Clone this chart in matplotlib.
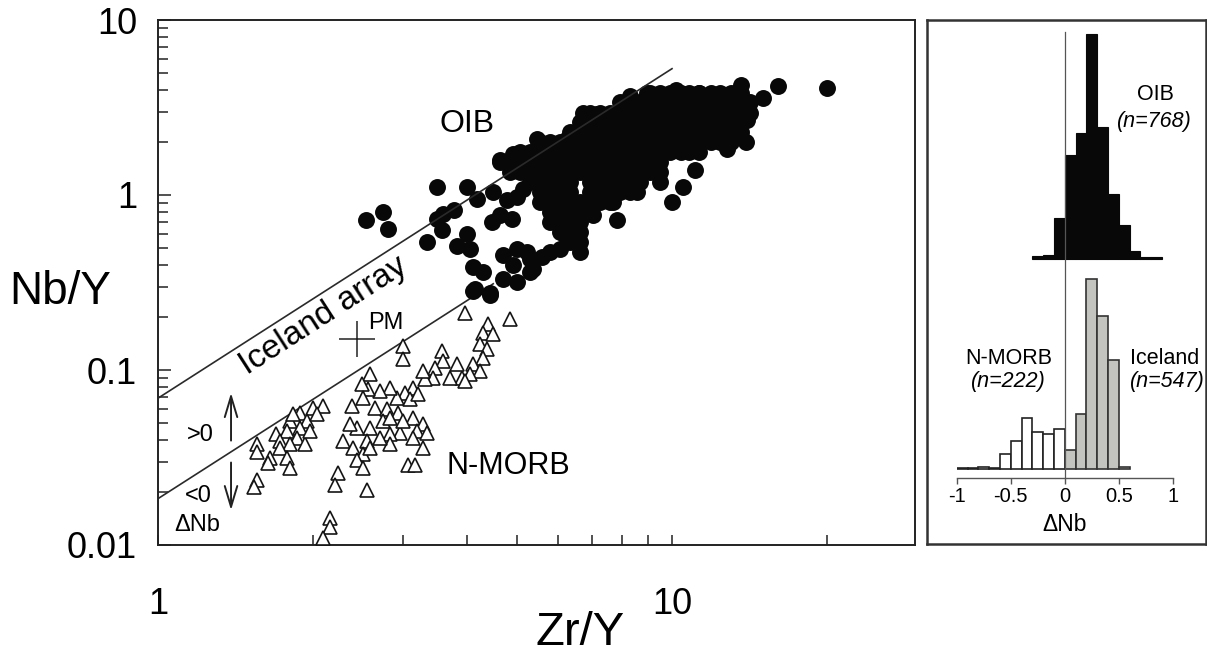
import numpy as np
import matplotlib
matplotlib.use("Agg")
import matplotlib.pyplot as plt
from matplotlib.ticker import FixedLocator, NullFormatter

plt.rcParams['font.family'] = ['Liberation Sans', 'DejaVu Sans']
plt.rcParams['axes.unicode_minus'] = False

W, H = 1207, 656

# OIB: dense core of the cloud, read column by column (Zr/Y of column, Nb/Y values)
core_zr_y = [4.63, 4.84, 5.06, 5.29, 5.53, 5.79, 6.05, 6.33, 6.62, 6.93, 7.24, 7.57, 7.92,
             8.28, 8.66, 9.06, 9.47, 9.91, 10.4, 10.8, 11.3, 11.9, 12.4, 13.0, 13.6, 14.2]
core_nb_y = [
    [1.54],
    [1.54, 1.35],
    [1.75, 1.54, 1.35],
    [1.75, 1.54, 1.35, 1.19],
    [2.00, 1.75, 1.54, 1.35, 1.19, 1.04, 0.912],
    [2.00, 1.75, 1.54, 1.35, 1.19, 1.04, 0.912, 0.800, 0.703],
    [2.00, 1.75, 1.54, 1.35, 1.19, 1.04, 0.912, 0.800, 0.703, 0.617],
    [2.28, 2.00, 1.75, 1.54, 1.35, 1.19, 1.04, 0.912, 0.800, 0.703, 0.617, 0.541],
    [2.60, 2.28, 2.00, 1.75, 1.54, 1.35, 0.912, 0.800, 0.703, 0.617, 0.541],
    [2.96, 2.60, 2.28, 2.00, 1.75, 1.54, 1.35, 1.19, 1.04, 0.912, 0.800],
    [2.96, 2.60, 2.28, 2.00, 1.75, 1.54, 1.35, 1.19, 1.04, 0.912],
    [2.96, 2.60, 2.28, 2.00, 1.75, 1.54, 1.35, 1.19, 1.04, 0.912],
    [3.38, 2.96, 2.60, 2.28, 2.00, 1.75, 1.54, 1.35, 1.19, 1.04],
    [3.38, 2.96, 2.60, 2.28, 2.00, 1.75, 1.54, 1.35, 1.19, 1.04],
    [3.38, 2.96, 2.60, 2.28, 2.00, 1.75, 1.54, 1.35, 1.19],
    [3.85, 3.38, 2.96, 2.60, 2.28, 2.00, 1.75, 1.54, 1.35],
    [3.85, 3.38, 2.96, 2.60, 2.28, 2.00, 1.75, 1.54, 1.35],
    [3.85, 3.38, 2.96, 2.60, 2.28, 2.00, 1.75],
    [3.85, 3.38, 2.96, 2.60, 2.28, 2.00, 1.75],
    [3.85, 3.38, 2.96, 2.60, 2.28, 2.00, 1.75],
    [3.85, 3.38, 2.96, 2.60, 2.28, 2.00, 1.75],
    [3.85, 3.38, 2.96, 2.60, 2.28, 2.00],
    [3.85, 3.38, 2.96, 2.60, 2.28, 2.00],
    [3.85, 3.38, 2.96, 2.60, 2.28, 2.00],
    [3.85, 3.38, 2.96, 2.60, 2.28],
    [3.38, 2.96],
]

# OIB: scattered points around the core
oib_zr_y = [2.54, 2.74, 2.80, 3.49, 3.99, 4.17, 4.49, 4.63, 4.91, 3.49,
            3.58, 3.77, 3.34, 3.57, 3.99, 3.82, 4.05, 4.10, 4.29, 4.14,
            4.43, 4.47, 4.63, 4.88, 4.77, 4.99, 5.13, 4.69, 4.99, 5.29,
            4.91, 4.69, 4.99, 5.29, 5.59, 5.79, 5.34, 5.53, 5.79, 5.22,
            4.91, 5.46, 6.25, 6.71, 7.15, 8.28, 8.94, 10.2, 11.3, 13.6,
            15.0, 16.1, 14.0, 14.0, 13.9, 12.8, 11.1, 10.5, 10.0, 7.82,
            6.62, 6.19, 5.22, 4.10, 4.43, 5.37, 6.05, 6.53, 7.02, 7.68,
            8.55, 9.48, 20.0]
oib_nb_y = [0.721, 0.800, 0.641, 1.11, 1.11, 0.949, 1.04, 1.58, 1.54, 0.730,
            0.780, 0.822, 0.541, 0.632, 0.600, 0.513, 0.493, 0.390, 0.365, 0.289,
            0.274, 0.703, 0.770, 0.730, 0.937, 0.974, 1.08, 0.456, 0.493, 0.433,
            0.400, 0.333, 0.320, 0.365, 0.444, 0.475, 1.23, 1.41, 1.69, 1.54,
            1.71, 2.08, 2.08, 2.96, 2.89, 3.70, 3.85, 4.00, 3.85, 4.27,
            3.60, 4.22, 2.96, 2.67, 2.00, 1.83, 1.39, 1.11, 0.912, 0.721,
            0.475, 0.593, 0.475, 0.281, 0.270, 0.380, 0.493, 0.600, 0.770, 0.912,
            1.04, 1.19, 4.11]

# N-MORB
morb_zr_y = [3.95, 4.84, 4.39, 4.29, 4.48, 4.23, 4.37, 4.29, 4.10, 4.23,
             4.05, 3.90, 3.95, 3.82, 3.70, 3.57, 3.58, 3.46, 3.43, 3.31,
             3.28, 3.00, 3.00, 3.13, 3.02, 2.92, 3.09, 3.21, 2.83, 2.70,
             2.59, 2.56, 2.49, 2.38, 2.51, 2.64, 2.79, 2.93, 3.13, 3.28,
             3.19, 3.34, 3.13, 2.96, 2.83, 2.83, 2.70, 2.59, 2.55, 2.44,
             2.36, 2.29, 2.40, 2.51, 2.59, 2.44, 2.51, 2.24, 2.21, 2.55,
             3.06, 3.16, 3.28, 2.74, 2.83, 3.00, 2.16, 2.16, 2.09,
             2.09, 2.00, 1.89, 1.81, 1.95, 1.89, 1.78, 1.70, 1.86, 1.73,
             1.81, 1.93, 1.73, 1.65, 1.78, 1.81, 1.56, 1.56, 1.56, 1.54,
             2.04, 1.83, 1.98, 1.64]
morb_nb_y = [0.211, 0.195, 0.182, 0.162, 0.160, 0.141, 0.132, 0.117, 0.108, 0.0987,
             0.0949, 0.090, 0.0866, 0.108, 0.090, 0.128, 0.112, 0.1026, 0.090, 0.0889,
             0.0987, 0.137, 0.1155, 0.079, 0.074, 0.0693, 0.0684, 0.0730, 0.079, 0.076,
             0.0949, 0.078, 0.0833, 0.0624, 0.0693, 0.0608, 0.060, 0.057, 0.0534, 0.0493,
             0.045, 0.0439, 0.0411, 0.0439, 0.0433, 0.038, 0.0411, 0.0468, 0.0395, 0.0468,
             0.0493, 0.0395, 0.0360, 0.0333, 0.0356, 0.0304, 0.0274, 0.0257, 0.0219, 0.0205,
             0.0285, 0.0285, 0.0356, 0.0513, 0.0534, 0.0513, 0.0142, 0.0127, 0.0110,
             0.0624, 0.0608, 0.057, 0.0513, 0.0513, 0.0468, 0.0450, 0.0433, 0.0411, 0.0395,
             0.038, 0.038, 0.0356, 0.0316, 0.0316, 0.0277, 0.038, 0.0338, 0.0234, 0.0214,
             0.0562, 0.0562, 0.045, 0.0296]

# Iceland array bounds (end points)
upper_zr_y = [1.0, 10.0]
upper_nb_y = [0.069, 5.27]
lower_zr_y = [1.0, 4.49]
lower_nb_y = [0.0184, 0.311]

pm_zr_y, pm_nb_y = 2.44, 0.151

# Delta Nb histograms (bin left edges, counts)
oib_bins = [-0.3, -0.2, -0.1, 0.0, 0.1, 0.2, 0.3, 0.4, 0.5, 0.6, 0.7, 0.8]
oib_counts = [3, 4, 42, 107, 130, 232, 136, 67, 35, 8, 2, 2]
nmorb_bins = [-1.0, -0.9, -0.8, -0.7, -0.6, -0.5, -0.4, -0.3, -0.2, -0.1]
nmorb_counts = [1, 1, 3, 1, 16, 29, 53, 39, 37, 42]
iceland_bins = [0.0, 0.1, 0.2, 0.3, 0.4, 0.5]
iceland_counts = [20, 57, 196, 158, 113, 3]


def fx(px):
    return px / W


def fy(py):
    return 1 - py / H


fig = plt.figure(figsize=(W / 100, H / 100), dpi=100)

# ---- main scatter ----
ax = fig.add_axes([fx(158), fy(545), 757 / W, 525 / H])
ax.set_xscale('log')
ax.set_yscale('log')
ax.set_xlim(1, 29.7)
ax.set_ylim(0.01, 10)

core_x = np.concatenate([[x] * len(ys) for x, ys in zip(core_zr_y, core_nb_y)])
core_y = np.concatenate(core_nb_y)
all_x = np.concatenate([core_x, oib_zr_y])
all_y = np.concatenate([core_y, oib_nb_y])
ax.plot(all_x, all_y, 'o', ms=12.2, mfc='#080808', mec='#080808', mew=0, zorder=3)

ax.plot(morb_zr_y, morb_nb_y, '^', ms=10.5, mfc='white', mec='#151515', mew=1.2, zorder=3)

ax.plot(upper_zr_y, upper_nb_y, color='#2a2a2a', lw=1.2, zorder=4)
ax.plot(lower_zr_y, lower_nb_y, color='#2a2a2a', lw=1.2, zorder=2)

ax.plot(pm_zr_y, pm_nb_y, '+', ms=26, mew=1.1, color='#222222', zorder=4)
ax.text(2.78, 0.185, 'PM', fontsize=17, ha='center', va='center')

ax.text(3.99, 2.53, 'OIB', fontsize=23, ha='center', va='center')
ax.text(4.80, 0.0281, 'N-MORB', fontsize=22, ha='center', va='center')
ax.text(2.10, 0.205, 'Iceland array', fontsize=24, ha='center', va='center',
        rotation=32.8, rotation_mode='anchor')

ax.text(1.207, 0.0427, '>0', fontsize=17, ha='center', va='center')
ax.text(1.196, 0.0190, '<0', fontsize=17, ha='center', va='center')
ax.text(1.191, 0.0130, 'ΔNb', fontsize=17, ha='center', va='center')
arrow = dict(arrowstyle='->,head_length=1.0,head_width=0.3', lw=1.4, color='#222222',
             mutation_scale=15, shrinkA=0, shrinkB=0)
ax.annotate('', xy=(1.387, 0.0740), xytext=(1.387, 0.0395), arrowprops=arrow)
ax.annotate('', xy=(1.387, 0.0158), xytext=(1.387, 0.0296), arrowprops=arrow)

ax.xaxis.set_major_locator(FixedLocator([1, 10]))
ax.xaxis.set_minor_locator(FixedLocator([2, 3, 4, 5, 6, 7, 8, 9, 20]))
ax.xaxis.set_minor_formatter(NullFormatter())
ax.set_xticklabels(['1', '10'])
ax.yaxis.set_major_locator(FixedLocator([0.01, 0.1, 1, 10]))
ax.yaxis.set_minor_locator(FixedLocator([m * d for d in [0.01, 0.1, 1] for m in range(2, 10)]))
ax.yaxis.set_minor_formatter(NullFormatter())
ax.set_yticklabels(['0.01', '0.1', '1', '10'])
ax.tick_params(which='both', direction='in', top=False, right=False, color='#222222', width=1.1)
ax.tick_params(axis='x', which='both', length=7)
ax.tick_params(axis='x', which='major', pad=30, labelsize=26)
ax.tick_params(axis='y', which='major', length=9, pad=15, labelsize=26)
ax.tick_params(axis='y', which='minor', length=7)
for s in ax.spines.values():
    s.set_linewidth(1.4)
    s.set_color('#222222')

fig.text(fx(580), fy(633), 'Zr/Y', fontsize=34, ha='center', va='center')
fig.text(fx(60), fy(292), 'Nb/Y', fontsize=33, ha='center', va='center')

# ---- histogram panel ----
frame = fig.add_axes([fx(927), fy(544), (1206 - 927) / W, (544 - 20) / H])
frame.set_xticks([])
frame.set_yticks([])
for s in frame.spines.values():
    s.set_linewidth(1.8)
    s.set_color('#333333')

hx = fig.add_axes([fx(956.7), fy(477.7), 216 / W, (477.7 - 20) / H])
hx.patch.set_alpha(0)
hx.set_xlim(-1, 1)
hx.set_ylim(-8.5, -8.5 + 457.7 / 0.97)
oib_base = 217
hx.bar(oib_bins, oib_counts, width=0.1, align='edge', bottom=oib_base,
       color='#080808', edgecolor='#080808', lw=0.8)
hx.bar(nmorb_bins, nmorb_counts, width=0.1, align='edge',
       color='white', edgecolor='#222222', lw=1.2)
hx.bar(iceland_bins, iceland_counts, width=0.1, align='edge',
       color='#c3c3bf', edgecolor='#333333', lw=1.2)
hx.plot([0, 0], [-8.5, 451], color='#555555', lw=0.9, zorder=5)

for side in ['left', 'right', 'top']:
    hx.spines[side].set_visible(False)
hx.spines['bottom'].set_color('#555555')
hx.spines['bottom'].set_linewidth(1.0)
hx.set_yticks([])
hx.set_xticks([-1, -0.5, 0, 0.5, 1])
hx.set_xticklabels(['-1', '-0.5', '0', '0.5', '1'])
hx.tick_params(axis='x', direction='out', length=4, width=1.0, color='#555555',
               labelsize=14.5, pad=3)
hx.set_xlabel('ΔNb', fontsize=16.5, labelpad=5)

fig.text(fx(1155), fy(94), 'OIB', fontsize=15.5, ha='center', va='center')
fig.text(fx(1154), fy(121), '(n=768)', fontsize=15.5, ha='center', va='center', style='italic')
fig.text(fx(1009), fy(358), 'N-MORB', fontsize=15.5, ha='center', va='center')
fig.text(fx(1008), fy(381), '(n=222)', fontsize=15.5, ha='center', va='center', style='italic')
fig.text(fx(1165), fy(358), 'Iceland', fontsize=15.5, ha='center', va='center')
fig.text(fx(1167), fy(381), '(n=547)', fontsize=15.5, ha='center', va='center', style='italic')

fig.savefig('out.png', dpi=100)
